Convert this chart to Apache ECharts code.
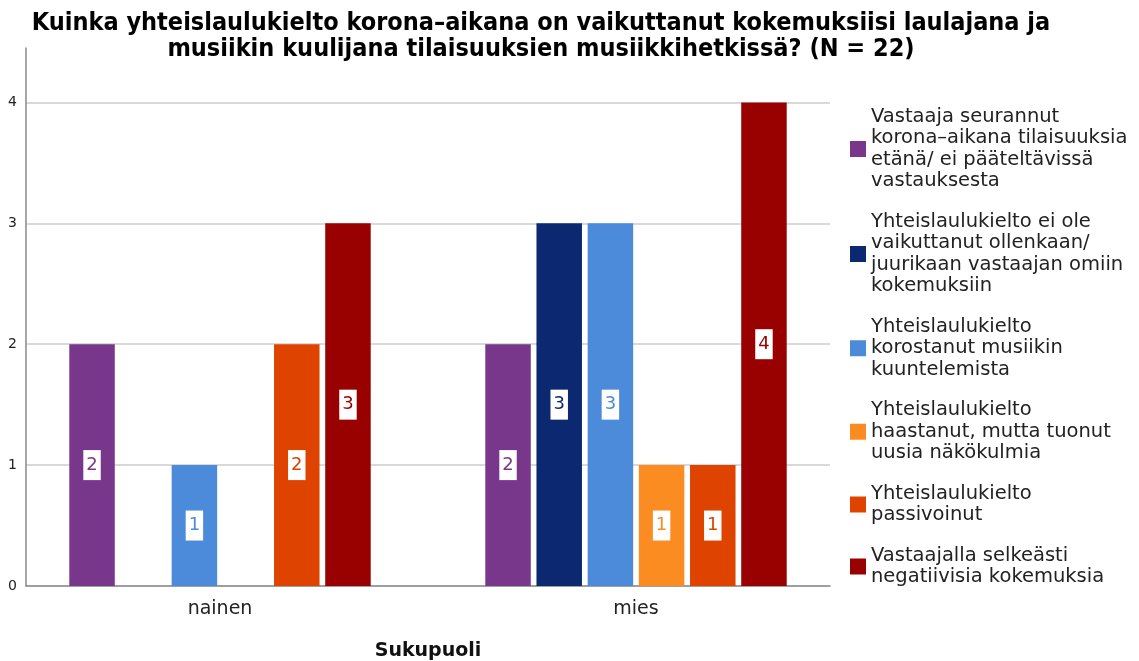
<!DOCTYPE html>
<html>
<head>
<meta charset="utf-8">
<script src="https://cdn.jsdelivr.net/npm/echarts@6/dist/echarts.min.js"></script>
<style>
  html, body { margin: 0; padding: 0; background: #fff; }
  #chart { width: 1139px; height: 661px; }
</style>
</head>
<body>
<div id="chart"></div>
<script>
  // luokat (x-akseli)
  const categories = ['nainen', 'mies']
  // sarjojen nimet
  const seriesNames = [
    'Vastaaja seurannut korona–aikana tilaisuuksia etänä/ ei pääteltävissä vastauksesta',
    'Yhteislaulukielto ei ole vaikuttanut ollenkaan/ juurikaan vastaajan omiin kokemuksiin',
    'Yhteislaulukielto korostanut musiikin kuuntelemista',
    'Yhteislaulukielto haastanut, mutta tuonut uusia näkökulmia',
    'Yhteislaulukielto passivoinut',
    'Vastaajalla selkeästi negatiivisia kokemuksia'
  ]
  // legendan rivitys
  const legendLabels = [
    'Vastaaja seurannut\nkorona–aikana tilaisuuksia\netänä/ ei pääteltävissä\nvastauksesta',
    'Yhteislaulukielto ei ole\nvaikuttanut ollenkaan/\njuurikaan vastaajan omiin\nkokemuksiin',
    'Yhteislaulukielto\nkorostanut musiikin\nkuuntelemista',
    'Yhteislaulukielto\nhaastanut, mutta tuonut\nuusia näkökulmia',
    'Yhteislaulukielto\npassivoinut',
    'Vastaajalla selkeästi\nnegatiivisia kokemuksia'
  ]
  // arvot: [nainen, mies]
  const seurannutEtana = [2, 2]
  const eiVaikuttanut = [0, 3]
  const korostanutKuuntelua = [1, 3]
  const haastanut = [0, 1]
  const passivoinut = [2, 1]
  const negatiivisia = [3, 4]
  const yTicks = [0, 1, 2, 3, 4]

  const allValues = [seurannutEtana, eiVaikuttanut, korostanutKuuntelua, haastanut, passivoinut, negatiivisia]
  const colors = ['#79378c', '#0c2870', '#4b8bd9', '#fb8c22', '#de4400', '#990000']

  const chart = echarts.init(document.getElementById('chart'))

  const seriesArr = allValues.map((vals, i) => {
    return {
      name: seriesNames[i],
      type: 'bar',
      xAxisIndex: 1,
      yAxisIndex: 1,
      barWidth: 45.5,
      barGap: '12.5%',
      itemStyle: { color: colors[i] },
      label: {
        show: true,
        position: 'inside',
        backgroundColor: '#fff',
        color: colors[i],
        fontSize: 18,
        lineHeight: 20,
        padding: [5, 3],
        fontFamily: 'DejaVu Sans'
      },
      //nolla-arvoille ei näytetä tunnistetta
      data: vals.map(v => v === 0 ? { value: v, label: { show: false } } : v)
    }
  })

  const option = {
    animation: false,
    backgroundColor: '#fff',
    title: {
      text: 'Kuinka yhteislaulukielto korona–aikana on vaikuttanut kokemuksiisi laulajana ja\nmusiikin kuulijana tilaisuuksien musiikkihetkissä? (N = 22)',
      left: 536,
      top: 5,
      textAlign: 'center',
      textStyle: {
        fontFamily: 'DejaVu Sans Condensed',
        fontWeight: 'bold',
        fontSize: 25,
        lineHeight: 26,
        color: '#000'
      }
    },
    legend: {
      orient: 'vertical',
      left: 850,
      top: 106,
      padding: 0,
      icon: 'rect',
      itemWidth: 16,
      itemHeight: 16,
      itemGap: 19,
      data: seriesNames,
      formatter: name => legendLabels[seriesNames.indexOf(name)],
      textStyle: {
        fontFamily: 'DejaVu Sans',
        fontSize: 19.5,
        lineHeight: 21.5,
        color: '#222'
      }
    },
    // grid 0: akselit ja apuviivat, grid 1: pylväät
    grid: [
      { left: 26, right: 309, top: 48, bottom: 75, outerBoundsMode: 'none' },
      { left: 12, right: 295, top: 48, bottom: 75, outerBoundsMode: 'none' }
    ],
    xAxis: [
      {
        gridIndex: 0,
        type: 'category',
        data: categories,
        axisLine: { lineStyle: { color: '#8a8a8a', width: 1.5 } },
        axisTick: { show: false },
        axisLabel: { show: false }
      },
      {
        gridIndex: 1,
        type: 'category',
        data: categories,
        axisLine: { show: false },
        axisTick: { show: false },
        axisLabel: { fontSize: 19, color: '#222', margin: 14, fontFamily: 'DejaVu Sans' },
        name: 'Sukupuoli',
        nameLocation: 'middle',
        nameGap: 56,
        nameTextStyle: { fontSize: 19, fontWeight: 'bold', color: '#111', fontFamily: 'DejaVu Sans' }
      }
    ],
    yAxis: [
      {
        gridIndex: 0,
        type: 'value',
        min: yTicks[0],
        max: 4.45,
        interval: 1,
        axisLine: { show: true, lineStyle: { color: '#8a8a8a', width: 1.5 } },
        axisTick: { show: false },
        axisLabel: { fontSize: 14, color: '#222', margin: 9, showMaxLabel: false, fontFamily: 'DejaVu Sans' },
        splitLine: { showMaxLine: false, lineStyle: { color: '#d9d9d9', width: 2 } }
      },
      {
        gridIndex: 1,
        type: 'value',
        min: yTicks[0],
        max: 4.45,
        show: false
      }
    ],
    series: seriesArr
  }
  chart.setOption(option)
</script>
</body>
</html>
